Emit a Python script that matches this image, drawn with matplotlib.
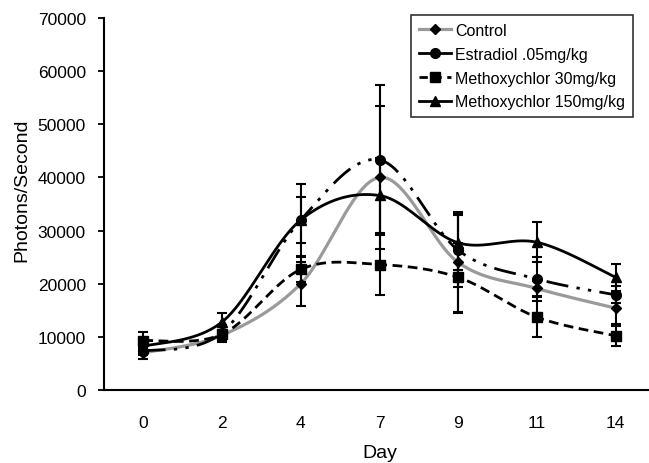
import numpy as np
import matplotlib
matplotlib.use("Agg")
import matplotlib.pyplot as plt
from matplotlib.lines import Line2D

plt.rcParams['font.family'] = ['Liberation Sans', 'DejaVu Sans']

days = ['0', '2', '4', '7', '9', '11', '14']

control = [7000, 10300, 20000, 40000, 24000, 19100, 15400]
control_err = [1200, 1000, 4100, 13400, 9500, 1500, 3000]

estradiol = [7300, 10800, 32000, 43300, 26300, 20900, 17900]
estradiol_err = [800, 1500, 6700, 14100, 7000, 4100, 1600]

mxc30 = [9300, 10500, 22700, 23600, 21200, 13700, 10200]
mxc30_err = [1600, 1500, 2300, 5700, 6500, 3800, 1900]

mxc150 = [8200, 12800, 32000, 36600, 27700, 27800, 21200]
mxc150_err = [1000, 1700, 4300, 7000, 5200, 3800, 2500]

labels = ['Control', 'Estradiol .05mg/kg', 'Methoxychlor 30mg/kg', 'Methoxychlor 150mg/kg']


def smooth(y, n=40):
    # excel-style smoothed line (bezier through the points)
    x = np.arange(len(y), dtype=float)
    y = np.asarray(y, dtype=float)
    px = np.concatenate([[x[0]], x, [x[-1]]])
    py = np.concatenate([[y[0]], y, [y[-1]]])
    t = np.linspace(0, 1, n)
    xs, ys = [], []
    for i in range(len(x) - 1):
        p0 = np.array([px[i], py[i]])
        p1 = np.array([px[i + 1], py[i + 1]])
        p2 = np.array([px[i + 2], py[i + 2]])
        p3 = np.array([px[i + 3], py[i + 3]])
        c1 = p1 + (p2 - p0) / 6
        c2 = p2 - (p3 - p1) / 6
        b = ((1 - t) ** 3)[:, None] * p1 + (3 * (1 - t) ** 2 * t)[:, None] * c1 \
            + (3 * (1 - t) * t ** 2)[:, None] * c2 + (t ** 3)[:, None] * p2
        xs.append(b[:, 0])
        ys.append(b[:, 1])
    return np.concatenate(xs), np.concatenate(ys)


fig = plt.figure(figsize=(6.49, 4.64), dpi=100)
ax = fig.add_axes([104 / 649, 1 - 391 / 464, 551 / 649, 372 / 464])

series = [control, estradiol, mxc30, mxc150]
errs = [control_err, estradiol_err, mxc30_err, mxc150_err]
colors = ['#9a9a9a', 'black', 'black', 'black']
widths = [2.3, 2, 2, 2]
styles = ['-', (0, (8, 3, 1.2, 3, 1.2, 3)), (0, (3.5, 2)), '-']
markers = ['D', 'o', 's', '^']
msizes = [5, 7, 6.5, 6.5]

x = np.arange(len(days))
for y, e, c, lw, ls, m, ms in zip(series, errs, colors, widths, styles, markers, msizes):
    sx, sy = smooth(y)
    ax.plot(sx, sy, color=c, linestyle=ls, linewidth=lw, zorder=2)
    ax.errorbar(x, y, yerr=e, fmt='none', ecolor='black', elinewidth=1.5,
                capsize=3.5, capthick=1.5, zorder=3)
    ax.plot(x, y, linestyle='none', marker=m, markersize=ms, color='black', zorder=4)

ax.set_xlim(-0.5, 6.5)
ax.set_ylim(0, 70000)
ax.set_yticks(range(0, 70001, 10000))
ax.set_xticks(x)
ax.set_xticklabels(days)
ax.tick_params(axis='x', length=0, pad=18, labelsize=12.5)
ax.tick_params(axis='y', direction='out', length=4, width=1.3, pad=9, labelsize=12.5)
for s in ['top', 'right']:
    ax.spines[s].set_visible(False)
for s in ['left', 'bottom']:
    ax.spines[s].set_linewidth(1.5)

ax.set_xlabel('Day', fontsize=14, labelpad=10)
ax.set_ylabel('Photons/Second', fontsize=14)
ax.yaxis.set_label_coords(-0.134, 0.54)

handles = [
    Line2D([], [], color='#9a9a9a', lw=2.3, marker='D', ms=5, mfc='black', mec='black'),
    Line2D([], [], color='black', lw=2, marker='o', ms=7),
    Line2D([], [], color='black', lw=2, ls=(0, (3, 2)), marker='s', ms=6.5),
    Line2D([], [], color='black', lw=2, marker='^', ms=6.5),
]
leg = fig.legend(handles, labels, loc='upper left',
                 bbox_to_anchor=(411 / 649, 1 - 16 / 464), bbox_transform=fig.transFigure,
                 borderaxespad=0, fontsize=11.5, frameon=True, fancybox=False,
                 handlelength=2.0, handletextpad=0.25, labelspacing=0.55,
                 borderpad=0.5)
leg.get_frame().set_edgecolor('black')
leg.get_frame().set_linewidth(1.2)

fig.savefig('out.png', dpi=100)
